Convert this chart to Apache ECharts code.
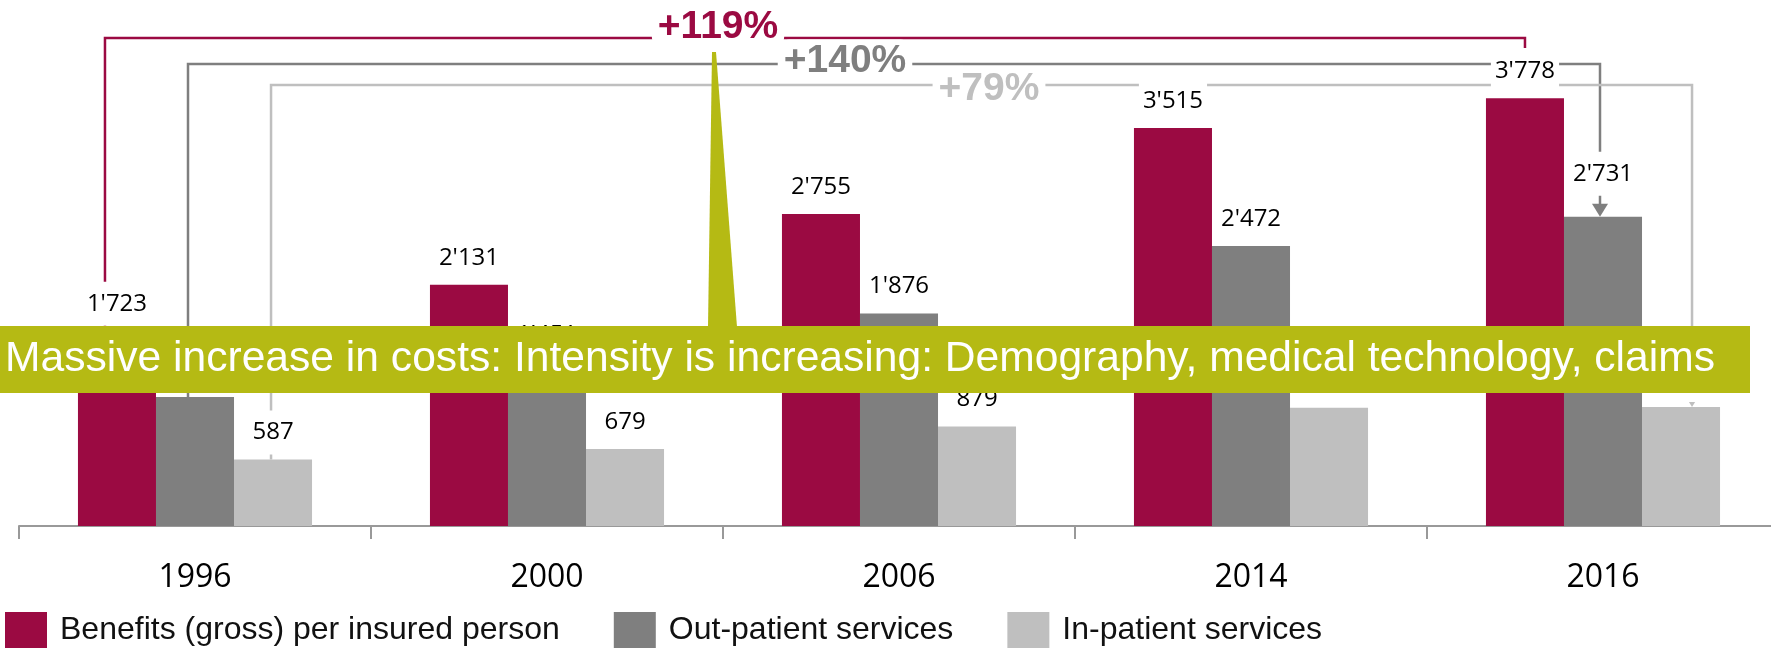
<!DOCTYPE html>
<html>
<head>
<meta charset="utf-8">
<title>Benefits per insured person</title>
<script src="https://cdn.jsdelivr.net/npm/echarts@6/dist/echarts.min.js"></script>
<style>
  html, body { margin: 0; padding: 0; background: #fff; }
  #chart { width: 1771px; height: 648px; }
</style>
</head>
<body>
<div id="chart"></div>
<script>
var years = ["1996", "2000", "2006", "2014", "2016"];
var benefits = [1723, 2131, 2755, 3515, 3778];
var outPatient = [1138, 1451, 1876, 2472, 2731];
var inPatient = [587, 679, 879, 1045, 1051];
var seriesNames = ["Benefits (gross) per insured person", "Out-patient services", "In-patient services"];
var growthLabels = ["+119%", "+140%", "+79%"];
var bannerText = "Massive increase in costs: Intensity is increasing: Demography, medical technology, claims";

var RED = "#9B0A42", GRAY = "#7F7F7F", LIGHT = "#BFBFBF", OLIVE = "#B5BA14";
var CAT_GAP = 0.335;
var colors = [RED, GRAY, LIGHT];
var seriesData = [benefits, outPatient, inPatient];

// 1'723 style thousands separator
function fmt(v) {
  return String(v).replace(/\B(?=(\d{3})+(?!\d))/g, "'");
}

var chart = echarts.init(document.getElementById("chart"));

var series = seriesData.map(function (arr, s) {
  return {
    name: seriesNames[s],
    type: "bar",
    barGap: "0%",
    barCategoryGap: CAT_GAP * 100 + "%",
    itemStyle: { color: colors[s] },
    label: {
      show: true,
      position: "top",
      distance: 5,
      fontFamily: "Open Sans",
      fontSize: 24,
      color: "#000",
      backgroundColor: "#fff",
      padding: [10, 4],
      formatter: function (p) { return fmt(p.value); }
    },
    // last gray label sits higher to leave room for the arrow
    data: arr.map(function (v, i) {
      if (s === 1 && i === arr.length - 1) return { value: v, label: { distance: 21 } };
      return v;
    })
  };
});

var option = {
  animation: false,
  grid: { left: 19, width: 1760, top: 73, bottom: 122, containLabel: false, outerBoundsMode: "none" },
  legend: {
    left: 5,
    top: 612,
    padding: 0,
    itemWidth: 42,
    itemHeight: 36,
    itemGap: 54,
    icon: "rect",
    textStyle: { fontFamily: "Liberation Sans", fontSize: 32, color: "#111", padding: [6, 0, 0, 8] },
    data: seriesNames
  },
  xAxis: {
    type: "category",
    data: years,
    axisLine: { show: true, lineStyle: { color: "#999", width: 2 } },
    axisTick: { show: true, alignWithLabel: false, length: 13, lineStyle: { color: "#999", width: 2 } },
    axisLabel: { fontFamily: "Open Sans", fontSize: 32, color: "#000", margin: 36 }
  },
  yAxis: { type: "value", min: 0, max: 4000, show: false, splitLine: { show: false } },
  series: series
};
chart.setOption(option);

// ---- annotation brackets, computed from the axes ----
var last = years.length - 1;
var catW = chart.convertToPixel({ xAxisIndex: 0 }, years[1]) - chart.convertToPixel({ xAxisIndex: 0 }, years[0]);
var barW = catW * (1 - CAT_GAP) / 3;
function barX(s, i) {
  return chart.convertToPixel({ xAxisIndex: 0 }, years[i]) + (s - 1) * barW;
}
function valY(v) {
  return chart.convertToPixel({ yAxisIndex: 0 }, v);
}

var levels = [38, 64, 85];           // height of each bracket
var startOff = [-12, -7, -2];
var endOff = [0, -3, 11];
var textPos = [[718, 27], [845, 61], [989, 89]];

var graphics = [];
seriesData.forEach(function (arr, s) {
  var x0 = barX(s, 0) + startOff[s];
  var x1 = barX(s, last) + endOff[s];
  var y0 = valY(arr[0]);
  var y1 = valY(arr[last]);
  var endY = s === 0 ? levels[s] + 10 : y1 - 11;
  graphics.push({
    type: "polyline",
    z: 1,
    shape: { points: [[x0, y0], [x0, levels[s]], [x1, levels[s]], [x1, endY]] },
    style: { stroke: colors[s], lineWidth: 2.5, fill: null }
  });
  if (s > 0) {
    graphics.push({
      type: "polygon",
      z: 1,
      shape: { points: [[x1 - 8, y1 - 13], [x1 + 8, y1 - 13], [x1, y1]] },
      style: { fill: colors[s] }
    });
  }
  graphics.push({
    type: "text",
    z: 5,
    x: textPos[s][0],
    y: textPos[s][1],
    style: {
      text: growthLabels[s],
      fill: colors[s],
      font: "bold 39px 'Liberation Sans', Arial, sans-serif",
      align: "center",
      verticalAlign: "middle",
      backgroundColor: "#fff",
      padding: [2, 6],
      borderRadius: 12
    }
  });
});

// callout banner with pointer
var bannerTop = 326, bannerH = 67;
graphics.push({
  type: "polygon",
  z: 100,
  shape: { points: [[712, 52], [716, 52], [737, bannerTop + 1], [708, bannerTop + 1]] },
  style: { fill: OLIVE }
});
graphics.push({
  type: "rect",
  z: 100,
  shape: { x: 0, y: bannerTop, width: 1750, height: bannerH },
  style: { fill: OLIVE }
});
graphics.push({
  type: "text",
  z: 101,
  x: 5,
  y: bannerTop + bannerH / 2,
  style: {
    text: bannerText,
    fill: "#fff",
    font: "42.6px 'Liberation Sans', Arial, sans-serif",
    verticalAlign: "middle"
  }
});

chart.setOption({ graphic: graphics });
</script>
</body>
</html>
